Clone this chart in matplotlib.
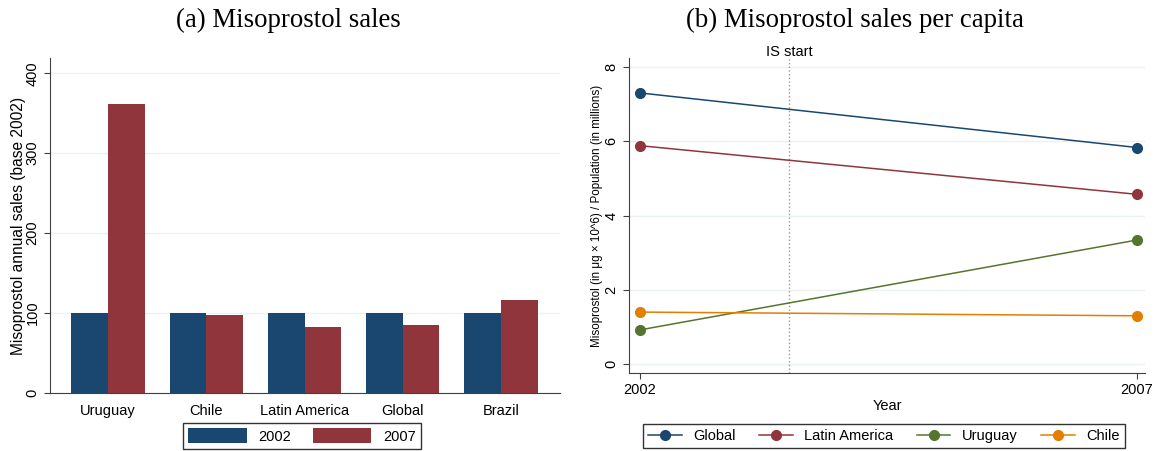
import numpy as np
import matplotlib.pyplot as plt

plt.rcParams['font.family'] = ['Liberation Sans', 'DejaVu Sans']

# (a) sales index, base 2002 = 100
countries = ["Uruguay", "Chile", "Latin America", "Global", "Brazil"]
sales_2002 = [100, 100, 100, 100, 100]
sales_2007 = [361, 98, 83, 85, 116]

# (b) per capita sales
years = [2002, 2007]
pc_series = ["Global", "Latin America", "Uruguay", "Chile"]
pc_global = [7.30, 5.83]
pc_latam = [5.88, 4.57]
pc_uruguay = [0.92, 3.34]
pc_chile = [1.40, 1.30]
is_start = 2003.5

navy = "#1a476f"
maroon = "#90353b"
green = "#55752f"
orange = "#e37e00"
gridc = "#eaf2f3"
axc = "#404040"

fig = plt.figure(figsize=(11.58, 4.51), dpi=100)

# ---- panel (a)
ax1 = fig.add_axes([50/1158, 58/451, 510/1158, 335/451])
x = np.arange(len(countries))
w = 0.373
b1 = ax1.bar(x - w/2, sales_2002, w, color=navy, label="2002", zorder=3)
b2 = ax1.bar(x + w/2, sales_2007, w, color=maroon, label="2007", zorder=3)
ax1.set_xlim(-0.59, 4.6)
ax1.set_ylim(0, 419)
ax1.set_yticks([0, 100, 200, 300, 400])
ax1.set_yticklabels(["0", "100", "200", "300", "400"], rotation=90, va="center")
ax1.set_xticks(x)
ax1.set_xticklabels(countries, fontsize=10.5)
ax1.tick_params(axis="x", length=0, pad=8)
ax1.tick_params(axis="y", labelsize=10.5, color=axc, length=4)
ax1.grid(axis="y", color=gridc, linewidth=1, zorder=0)
for s in ["top", "right"]:
    ax1.spines[s].set_visible(False)
for s in ["left", "bottom"]:
    ax1.spines[s].set_color(axc)
ax1.set_ylabel("Misoprostol annual sales (base 2002)", fontsize=11.2, labelpad=0)
fig.text(288.5/1158, 1 - 20/451, "(a) Misoprostol sales", ha="center", va="center",
         family="Liberation Serif", fontsize=19.3)
leg1 = fig.legend(handles=[b1, b2], loc="center", bbox_to_anchor=(302/1158, 1 - 436/451),
                  ncol=2, fontsize=10.5, frameon=True, fancybox=False,
                  handlelength=4, handleheight=1.2, columnspacing=1.5,
                  borderpad=0.35, edgecolor="black")
leg1.get_frame().set_linewidth(1)

# ---- panel (b)
ax2 = fig.add_axes([629/1158, 78/451, 516/1158, 315/451])
series = [pc_global, pc_latam, pc_uruguay, pc_chile]
cols = [navy, maroon, green, orange]
handles = []
for name, vals, c in zip(pc_series, series, cols):
    h, = ax2.plot(years, vals, color=c, marker="o", markersize=7, linewidth=1.1,
                  label=name, zorder=3)
    handles.append(h)
ax2.axvline(is_start, color="#999999", linestyle=":", linewidth=1, zorder=2)
ax2.text(is_start, 8.22, "IS start", ha="center", va="bottom", fontsize=10.5)
ax2.set_xlim(2001.89, 2007.08)
ax2.set_ylim(-0.24, 8.24)
ax2.set_xticks(years)
ax2.set_xticklabels([str(y) for y in years], fontsize=10.5)
ax2.set_yticks([0, 2, 4, 6, 8])
ax2.set_yticklabels(["0", "2", "4", "6", "8"], rotation=90, va="center")
ax2.tick_params(axis="both", labelsize=10.5, color=axc, length=4)
ax2.grid(axis="y", color=gridc, linewidth=1, zorder=0)
for s in ["top", "right"]:
    ax2.spines[s].set_visible(False)
for s in ["left", "bottom"]:
    ax2.spines[s].set_color(axc)
ax2.set_xlabel("Year", fontsize=10.5, labelpad=1)
ax2.set_ylabel("Misoprostol (in \u03bcg \u00d7 10^6) / Population (in millions)",
               fontsize=8.4, labelpad=1)
fig.text(855/1158, 1 - 20/451, "(b) Misoprostol sales per capita", ha="center",
         va="center", family="Liberation Serif", fontsize=19.3)
leg2 = fig.legend(handles=handles, loc="center", bbox_to_anchor=(884/1158, 1 - 436/451),
                  ncol=4, fontsize=10.5, frameon=True, fancybox=False,
                  handlelength=2.3, columnspacing=1.6, borderpad=0.35,
                  edgecolor="black")
leg2.get_frame().set_linewidth(1)

fig.savefig("out.png", dpi=100)
